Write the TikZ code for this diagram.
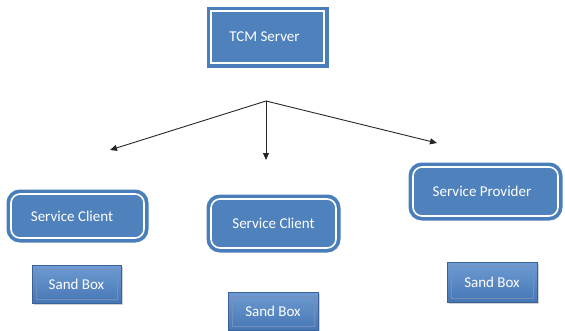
\documentclass[tikz,border=0pt]{standalone}
\usepackage{fontspec}
\setmainfont{Carlito}
\usetikzlibrary{arrows.meta,shadows}
\definecolor{offblue}{HTML}{4F81BD}
\definecolor{offedge}{HTML}{4A7EBB}
\definecolor{sbtop}{HTML}{6E9BD2}
\definecolor{sbbot}{HTML}{4677B5}
\definecolor{sbedge}{HTML}{3A6199}
\tikzset{
  mainbox/.style={draw=white, line width=1.6pt, fill=offblue,
    preaction={draw=offedge, line width=9pt},
    text=white, inner sep=0pt, font=\fontsize{15}{17}\selectfont},
  roundbox/.style={mainbox, rounded corners=9pt},
  sandbox/.style={draw=sbedge, line width=0.6pt, top color=sbtop, bottom color=sbbot,
    drop shadow={shadow xshift=2pt, shadow yshift=-2pt, fill=black!35, opacity=0.5},
    path picture={\draw[sbedge!70, line width=0.5pt]
      ([xshift=4pt,yshift=4pt]path picture bounding box.south west) rectangle
      ([xshift=-4pt,yshift=-4pt]path picture bounding box.north east);},
    text=white, inner sep=0pt, font=\fontsize{15}{17}\selectfont},
  conn/.style={draw=black!85, line width=0.9pt, -{Triangle[length=7pt,width=6pt]}}
}
\begin{document}
\begin{tikzpicture}[x=1pt,y=-1pt]
\useasboundingbox (0,0) rectangle (565,330);
\node[mainbox, minimum width=113pt, minimum height=52pt] (tcm) at (267.5,37) {\hspace*{-6pt}TCM Server};
\node[roundbox, minimum width=133pt, minimum height=44pt] (sc1) at (77.5,216) {\hspace*{-11pt}Service Client};
\node[roundbox, minimum width=125pt, minimum height=49pt] (sc2) at (273.5,223.5) {Service Client};
\node[roundbox, minimum width=145pt, minimum height=49pt] (sp) at (485.5,191.5) {\hspace*{-7pt}Service Provider};
\node[sandbox, minimum width=89pt, minimum height=38pt] (sb1) at (76.5,284) {Sand Box};
\node[sandbox, minimum width=90pt, minimum height=38pt] (sb2) at (273,311) {Sand Box};
\node[sandbox, minimum width=90pt, minimum height=40pt] (sb3) at (492,282) {Sand Box};
\coordinate (apex) at (266,101);
\coordinate (endl) at (110,150);
\coordinate (endm) at (266,160);
\coordinate (endr) at (437,143);
\draw[conn] (apex) -- (endl);
\draw[conn] (apex) -- (endm);
\draw[conn] (apex) -- (endr);
\end{tikzpicture}
\end{document}
